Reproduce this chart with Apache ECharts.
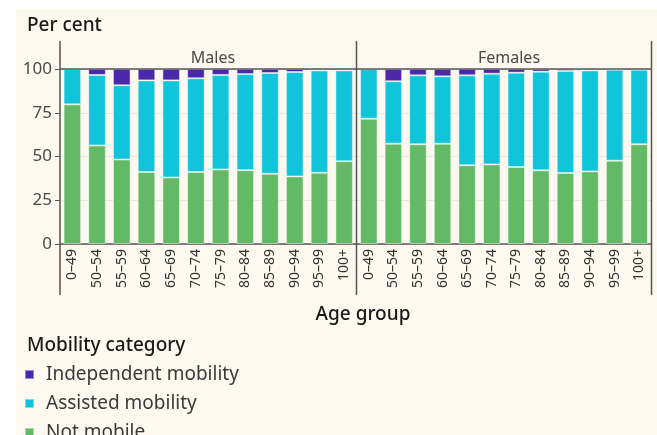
<!DOCTYPE html>
<html>
<head>
<meta charset="utf-8">
<script src="https://cdn.jsdelivr.net/npm/echarts@6/dist/echarts.min.js"></script>
<style>
  html, body { margin: 0; padding: 0; background: #ffffff; }
  #wrap { position: relative; width: 657px; height: 435px; overflow: hidden; }
  #panel { position: absolute; left: 16px; top: 9px; right: 0; bottom: 0; background: #fdf8f0; }
  #main { position: absolute; left: 0; top: 0; width: 657px; height: 435px; }
</style>
</head>
<body>
<div id="wrap">
  <div id="panel"></div>
  <div id="main"></div>
</div>
<script>
// 年龄组
const ageGroups = ['0–49', '50–54', '55–59', '60–64', '65–69', '70–74', '75–79', '80–84', '85–89', '90–94', '95–99', '100+'];
const yTicks = [0, 25, 50, 75, 100];
const legendNames = ['Independent mobility', 'Assisted mobility', 'Not mobile'];

// Males
const notMobileMales = [79.8, 56.3, 48.3, 41.1, 38.0, 41.1, 42.6, 42.2, 40.1, 38.6, 40.7, 47.3];
const assistedMales = [20.2, 40.3, 42.4, 52.4, 55.5, 53.6, 54.0, 54.9, 57.6, 59.7, 58.5, 51.9];
const independentMales = [0, 3.4, 9.3, 6.5, 6.5, 5.3, 3.4, 2.9, 2.3, 1.7, 0.8, 0.8];

// Females
const notMobileFemales = [71.6, 57.3, 57.0, 57.3, 45.0, 45.5, 44.0, 42.1, 40.6, 41.5, 47.6, 57.0];
const assistedFemales = [28.4, 35.7, 39.4, 38.5, 51.4, 51.8, 53.9, 56.4, 58.3, 57.7, 52.0, 42.6];
const independentFemales = [0, 7.0, 3.6, 4.2, 3.6, 2.7, 2.1, 1.5, 1.1, 0.8, 0.4, 0.4];

const colors = {
  independent: '#4b27ab',
  assisted: '#10c5da',
  notMobile: '#62ba67',
};

const fontFamily = 'Noto Sans';
const lineColor = '#555555';

const myChart = echarts.init(document.getElementById('main'), null, { renderer: 'canvas' });

function xAxisFor(gridIndex) {
  return {
    type: 'category',
    gridIndex,
    data: ageGroups,
    axisLine: { show: true, lineStyle: { color: lineColor, width: 1.5 } },
    axisTick: { show: false },
    axisLabel: {
      rotate: 90,
      margin: 5,
      fontFamily,
      fontSize: 14,
      color: '#333333',
      interval: 0,
    },
  };
}

function yAxisFor(gridIndex, showLabels) {
  return {
    type: 'value',
    gridIndex,
    min: 0,
    max: 100,
    interval: 25,
    axisLine: { show: false },
    axisTick: { show: showLabels, length: 5, lineStyle: { color: lineColor } },
    axisLabel: {
      show: showLabels,
      margin: 8,
      fontFamily,
      fontSize: 17,
      color: '#4a4a4a',
      formatter: (v) => (yTicks.indexOf(v) >= 0 ? String(v) : ''),
    },
    splitLine: { show: true, lineStyle: { color: '#ece6dc', width: 1 } },
  };
}

function barSeries(name, data, idx, stack, color) {
  return {
    name,
    type: 'bar',
    xAxisIndex: idx,
    yAxisIndex: idx,
    stack,
    data,
    barCategoryGap: '29%',
    itemStyle: {
      color,
      borderColor: 'rgba(255,255,255,0.45)',
      borderWidth: 1,
    },
    emphasis: { disabled: true },
  };
}

// 图例，每项一个，免得换列
const legends = legendNames.map((name, i) => ({
  orient: 'vertical',
  left: 19,
  top: 360 + i * 29,
  itemWidth: 9,
  itemHeight: 9,
  icon: 'rect',
  data: [name],
  textStyle: { fontFamily, fontSize: 19, color: '#3a3a3a', padding: [0, 0, 0, 7] },
  selectedMode: false,
}));

// 画框线
const frameLines = [
  [60, 41, 60, 295],
  [356.5, 41, 356.5, 295],
  [651.5, 41, 651.5, 295],
  [60, 69, 652, 69],
];

myChart.setOption({
  animation: false,
  textStyle: { fontFamily },
  title: [
    {
      text: 'Per cent',
      left: 22,
      top: 11,
      textStyle: { fontFamily, fontSize: 19, fontWeight: 500, color: '#1a1a1a' },
    },
    {
      text: 'Males',
      left: 208,
      top: 45,
      textAlign: 'center',
      textStyle: { fontFamily, fontSize: 16, fontWeight: 'normal', color: '#4a4a4a' },
    },
    {
      text: 'Females',
      left: 504,
      top: 45,
      textAlign: 'center',
      textStyle: { fontFamily, fontSize: 16, fontWeight: 'normal', color: '#4a4a4a' },
    },
    {
      text: 'Age group',
      left: 358,
      top: 300,
      textAlign: 'center',
      textStyle: { fontFamily, fontSize: 19, fontWeight: 500, color: '#1a1a1a' },
    },
    {
      text: 'Mobility category',
      left: 22,
      top: 331,
      textStyle: { fontFamily, fontSize: 19, fontWeight: 500, color: '#1a1a1a' },
    },
  ],
  legend: legends,
  grid: [
    { left: 60, right: 300.5, top: 69, bottom: 191 },
    { left: 356.5, right: 5.5, top: 69, bottom: 191 },
  ],
  xAxis: [xAxisFor(0), xAxisFor(1)],
  yAxis: [yAxisFor(0, true), yAxisFor(1, false)],
  series: [
    barSeries('Not mobile', notMobileMales, 0, 'm', colors.notMobile),
    barSeries('Assisted mobility', assistedMales, 0, 'm', colors.assisted),
    barSeries('Independent mobility', independentMales, 0, 'm', colors.independent),
    barSeries('Not mobile', notMobileFemales, 1, 'f', colors.notMobile),
    barSeries('Assisted mobility', assistedFemales, 1, 'f', colors.assisted),
    barSeries('Independent mobility', independentFemales, 1, 'f', colors.independent),
  ],
  graphic: frameLines.map((l) => ({
    type: 'line',
    z: 100,
    silent: true,
    shape: { x1: l[0], y1: l[1], x2: l[2], y2: l[3] },
    style: { stroke: lineColor, lineWidth: 1.5 },
  })),
});
</script>
</body>
</html>
